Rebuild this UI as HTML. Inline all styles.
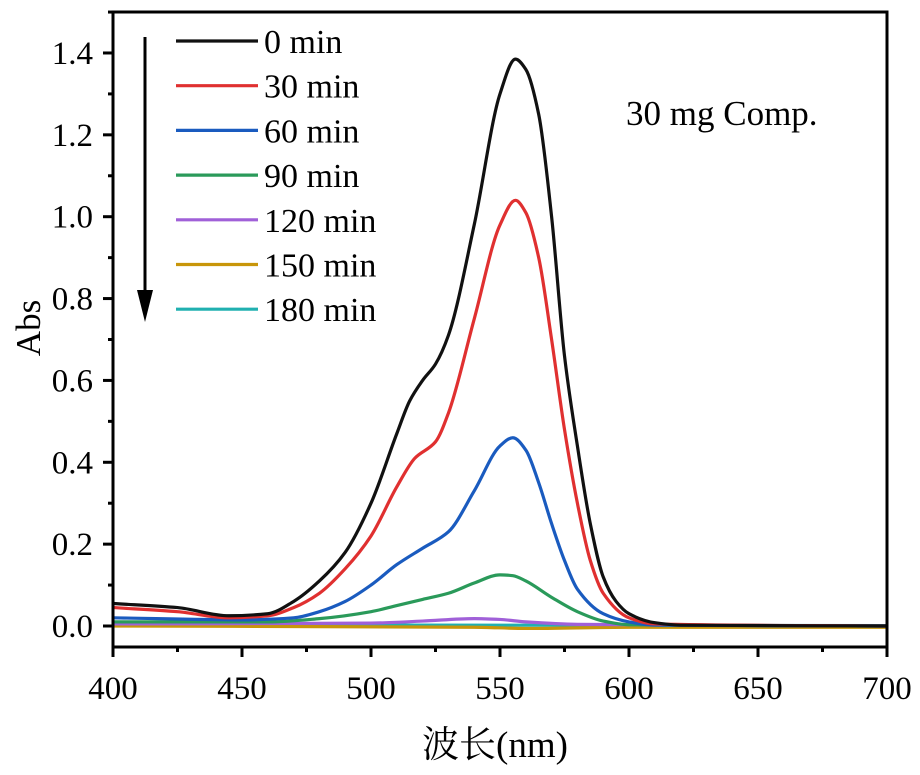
<!DOCTYPE html>
<html><head><meta charset="utf-8"><style>
body{margin:0;background:#fff}
text{font-family:"Liberation Serif","Noto Serif CJK SC",serif;fill:#000}
</style></head><body>
<svg width="920" height="770" viewBox="0 0 920 770" xmlns="http://www.w3.org/2000/svg">
<g id="series"></g>
<rect x="113" y="12" width="774" height="635" fill="none" stroke="#000" stroke-width="3"/>
<g id="axes"></g>
<g id="legend"></g>
<line x1="145" y1="37" x2="145" y2="295" stroke="#000" stroke-width="3"/>
<polygon points="137,290 153,290 145,322" fill="#000"/>
<text x="626" y="125" font-size="35">30 mg Comp.</text>
<text transform="translate(40,328) rotate(-90)" font-size="35" text-anchor="middle">Abs</text>
<text x="495" y="757" font-size="37" text-anchor="middle">波长(nm)</text>
</svg>
<script>
const seriesNames=["0 min","30 min","60 min","90 min","120 min","150 min","180 min"];
const seriesColors=["#111111","#e03030","#1a5bbf","#2a9a5a","#a060d8","#c8960a","#20b0b0"];
const xTicks=[400,450,500,550,600,650,700];
const yTicks=[0.0,0.2,0.4,0.6,0.8,1.0,1.2,1.4];
const s0=[[400,0.055],[425,0.045],[445,0.025],[460,0.03],[470,0.06],[480,0.11],[490,0.18],[500,0.3],[510,0.47],[515,0.55],[520,0.6],[525,0.64],[530,0.71],[540,0.98],[550,1.3],[556,1.385],[560,1.36],[565,1.25],[570,1.0],[575,0.66],[580,0.44],[585,0.25],[590,0.12],[595,0.06],[600,0.03],[610,0.008],[620,0.002],[700,0]];
const s1=[[400,0.045],[425,0.035],[445,0.02],[460,0.025],[470,0.045],[480,0.08],[490,0.14],[500,0.22],[510,0.34],[517,0.41],[525,0.45],[530,0.52],[540,0.75],[550,0.98],[556,1.04],[560,1.01],[565,0.9],[570,0.7],[575,0.48],[580,0.3],[585,0.16],[590,0.08],[600,0.02],[610,0.005],[700,0]];
const s2=[[400,0.02],[450,0.015],[470,0.02],[480,0.035],[490,0.06],[500,0.1],[510,0.15],[520,0.19],[530,0.23],[540,0.33],[550,0.44],[555,0.46],[560,0.43],[565,0.35],[570,0.25],[575,0.16],[580,0.09],[590,0.03],[600,0.01],[610,0.002],[700,0]];
const s3=[[400,0.01],[460,0.01],[480,0.018],[500,0.035],[510,0.05],[520,0.065],[530,0.08],[540,0.105],[550,0.125],[555,0.123],[560,0.11],[570,0.07],[580,0.035],[590,0.012],[600,0.003],[700,0]];
const s4=[[400,0.005],[500,0.007],[520,0.012],[540,0.018],[550,0.016],[560,0.01],[580,0.004],[700,0]];
const s5=[[400,0.0],[540,-0.003],[560,-0.006],[600,-0.003],[700,-0.003]];
const s6=[[400,0.003],[700,0.001]];
const allSeries=[s0,s1,s2,s3,s4,s5,s6];
const NS="http://www.w3.org/2000/svg";
const xs=v=>113+(v-400)/300*774;
const ys=v=>626-v*409.3;
function mk(t,a,p){const e=document.createElementNS(NS,t);for(const k in a)e.setAttribute(k,a[k]);p.appendChild(e);return e;}
function path(pts){const P=pts.map(d=>[xs(d[0]),ys(d[1])]);const n=P.length;
const d=[],m=[];for(let i=0;i<n-1;i++)d.push((P[i+1][1]-P[i][1])/(P[i+1][0]-P[i][0]));
m[0]=d[0];m[n-1]=d[n-2];
for(let i=1;i<n-1;i++){if(d[i-1]*d[i]<=0)m[i]=0;else{const h0=P[i][0]-P[i-1][0],h1=P[i+1][0]-P[i][0];const w1=2*h1+h0,w2=h1+2*h0;m[i]=(w1+w2)/(w1/d[i-1]+w2/d[i]);}}
let s="M"+P[0][0]+","+P[0][1];
for(let i=0;i<n-1;i++){const h=(P[i+1][0]-P[i][0])/3;
s+=" C"+(P[i][0]+h)+","+(P[i][1]+m[i]*h)+" "+(P[i+1][0]-h)+","+(P[i+1][1]-m[i+1]*h)+" "+P[i+1][0]+","+P[i+1][1];}return s;}
const sg=document.getElementById('series');
for(let i=allSeries.length-1;i>=0;i--){const e=mk('path',{d:path(allSeries[i]),fill:'none',stroke:seriesColors[i],'stroke-width':3.2,'stroke-linejoin':'round'},sg);

}
const ag=document.getElementById('axes');
xTicks.forEach((t,i)=>{const x=xs(t);const l=mk('line',{x1:x,y1:647,x2:x,y2:657,stroke:'#000','stroke-width':3},ag);


if(i<xTicks.length-1){const m=mk('line',{x1:xs(t+25),y1:647,x2:xs(t+25),y2:652,stroke:'#000','stroke-width':3},ag);

}
const tx=mk('text',{x:x,y:699,'font-size':33,'text-anchor':'middle'},ag);tx.textContent=t;

});
yTicks.forEach((t,i)=>{const y=ys(t);const l=mk('line',{x1:103,y1:y,x2:113,y2:y,stroke:'#000','stroke-width':3},ag);


const m=mk('line',{x1:108,y1:ys(t+0.1),x2:113,y2:ys(t+0.1),stroke:'#000','stroke-width':3},ag);


const tx=mk('text',{x:93,y:y+11,'font-size':33,'text-anchor':'end'},ag);tx.textContent=t.toFixed(1);

});
const lg=document.getElementById('legend');
seriesNames.forEach((n,i)=>{const y=41+i*44.7;
const l=mk('line',{x1:176,y1:y,x2:258,y2:y,stroke:seriesColors[i],'stroke-width':3.2},lg);


const tx=mk('text',{x:264,y:y+12,'font-size':34},lg);tx.textContent=n;

});
</script>
</body></html>
